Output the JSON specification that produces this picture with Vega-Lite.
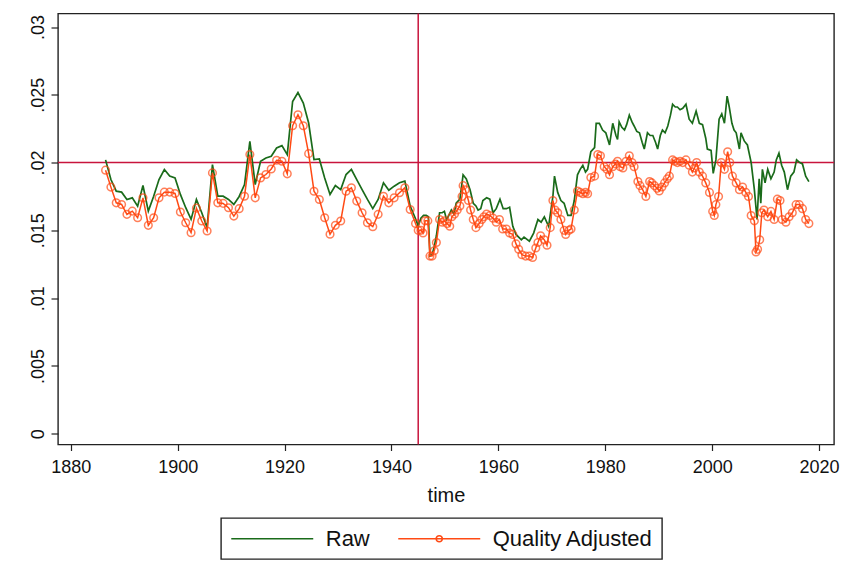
{
  "$schema": "https://vega.github.io/schema/vega-lite/v6.json",
  "width": 776,
  "height": 431,
  "autosize": {"type": "none"},
  "padding": {"left": 58, "top": 13.5, "right": 34, "bottom": 130},
  "background": "white",
  "config": {
    "font": "Liberation Sans",
    "view": {"stroke": "#222222", "strokeWidth": 1.4},
    "axis": {
      "grid": false,
      "domain": false,
      "tickColor": "#222222",
      "tickWidth": 1.2,
      "labelColor": "#111111",
      "titleColor": "#111111",
      "labelFontSize": 18,
      "titleFontWeight": "normal"
    }
  },
  "datasets": {
    "raw": [
      {"year": 1886.5, "share": 0.0202}, {"year": 1887.5, "share": 0.01875}, {"year": 1888.5, "share": 0.01789},
      {"year": 1889.5, "share": 0.01782}, {"year": 1890.5, "share": 0.01728}, {"year": 1891.5, "share": 0.0174},
      {"year": 1892.5, "share": 0.01679}, {"year": 1893.5, "share": 0.01831}, {"year": 1894.5, "share": 0.01642},
      {"year": 1895.5, "share": 0.01752}, {"year": 1896.5, "share": 0.01875}, {"year": 1897.5, "share": 0.01949},
      {"year": 1898.5, "share": 0.019}, {"year": 1899.5, "share": 0.01887}, {"year": 1900.5, "share": 0.01765},
      {"year": 1901.5, "share": 0.01667}, {"year": 1902.5, "share": 0.01581}, {"year": 1903.5, "share": 0.01728},
      {"year": 1904.5, "share": 0.0163}, {"year": 1905.5, "share": 0.0152}, {"year": 1906.5, "share": 0.01985},
      {"year": 1907.5, "share": 0.01752}, {"year": 1908.5, "share": 0.01752}, {"year": 1909.5, "share": 0.01728},
      {"year": 1910.5, "share": 0.01691}, {"year": 1911.5, "share": 0.0175}, {"year": 1912.5, "share": 0.01838},
      {"year": 1913.5, "share": 0.02157}, {"year": 1914.5, "share": 0.01838}, {"year": 1915.5, "share": 0.0201},
      {"year": 1916.5, "share": 0.02034}, {"year": 1917.5, "share": 0.02047}, {"year": 1918.5, "share": 0.02108},
      {"year": 1919.5, "share": 0.02125}, {"year": 1920.5, "share": 0.02059}, {"year": 1921.5, "share": 0.02451},
      {"year": 1922.5, "share": 0.02517}, {"year": 1923.5, "share": 0.02439}, {"year": 1924.5, "share": 0.02292},
      {"year": 1925.5, "share": 0.02022}, {"year": 1926.5, "share": 0.02027}, {"year": 1927.5, "share": 0.01887},
      {"year": 1928.5, "share": 0.01765}, {"year": 1929.5, "share": 0.01831}, {"year": 1930.5, "share": 0.01801},
      {"year": 1931.5, "share": 0.01912}, {"year": 1932.5, "share": 0.01949}, {"year": 1933.5, "share": 0.01875},
      {"year": 1934.5, "share": 0.01801}, {"year": 1935.5, "share": 0.01728}, {"year": 1936.5, "share": 0.0166},
      {"year": 1937.5, "share": 0.01728}, {"year": 1938.5, "share": 0.01851}, {"year": 1939.5, "share": 0.01796},
      {"year": 1940.5, "share": 0.01826}, {"year": 1941.5, "share": 0.01851}, {"year": 1942.5, "share": 0.01863},
      {"year": 1943.5, "share": 0.01679}, {"year": 1944.5, "share": 0.01586},
      {"year": 1945.0, "share": 0.01532}, {"year": 1945.5, "share": 0.0159}, {"year": 1946.0, "share": 0.0161},
      {"year": 1946.5, "share": 0.0161}, {"year": 1946.9, "share": 0.016}, {"year": 1947.2, "share": 0.0131},
      {"year": 1947.6, "share": 0.0132}, {"year": 1948.0, "share": 0.0138}, {"year": 1948.4, "share": 0.0146},
      {"year": 1949.0, "share": 0.0163}, {"year": 1949.5, "share": 0.0163}, {"year": 1949.9, "share": 0.0164},
      {"year": 1950.3, "share": 0.0158}, {"year": 1950.6, "share": 0.016}, {"year": 1951.2, "share": 0.0165},
      {"year": 1951.7, "share": 0.0162}, {"year": 1952.1, "share": 0.017}, {"year": 1952.8, "share": 0.0173},
      {"year": 1953.4, "share": 0.0191}, {"year": 1954.0, "share": 0.0188}, {"year": 1954.7, "share": 0.018},
      {"year": 1955.3, "share": 0.017}, {"year": 1955.8, "share": 0.0168}, {"year": 1956.2, "share": 0.0165},
      {"year": 1956.7, "share": 0.0166}, {"year": 1957.1, "share": 0.0172}, {"year": 1957.8, "share": 0.0174},
      {"year": 1958.4, "share": 0.0173}, {"year": 1959.0, "share": 0.0163}, {"year": 1959.6, "share": 0.0166},
      {"year": 1960.3, "share": 0.0173}, {"year": 1960.9, "share": 0.0166}, {"year": 1961.5, "share": 0.0166},
      {"year": 1962.1, "share": 0.0167}, {"year": 1962.7, "share": 0.0153}, {"year": 1963.3, "share": 0.0147},
      {"year": 1964.3, "share": 0.0143}, {"year": 1964.8, "share": 0.0145}, {"year": 1965.8, "share": 0.0142},
      {"year": 1966.6, "share": 0.0148}, {"year": 1967.4, "share": 0.0158}, {"year": 1968.0, "share": 0.0156},
      {"year": 1968.6, "share": 0.016}, {"year": 1969.4, "share": 0.0153}, {"year": 1970.2, "share": 0.0175},
      {"year": 1970.5, "share": 0.019}, {"year": 1971.1, "share": 0.0178}, {"year": 1971.7, "share": 0.0172},
      {"year": 1972.3, "share": 0.017}, {"year": 1973.0, "share": 0.0161}, {"year": 1973.6, "share": 0.0161},
      {"year": 1974.2, "share": 0.0172}, {"year": 1974.8, "share": 0.0191}, {"year": 1975.3, "share": 0.0195},
      {"year": 1975.8, "share": 0.0198}, {"year": 1976.3, "share": 0.0193}, {"year": 1976.7, "share": 0.0195},
      {"year": 1977.3, "share": 0.0208}, {"year": 1978.0, "share": 0.0211}, {"year": 1978.3, "share": 0.0229},
      {"year": 1978.9, "share": 0.0229}, {"year": 1979.5, "share": 0.0224}, {"year": 1980.1, "share": 0.0222},
      {"year": 1980.8, "share": 0.0213}, {"year": 1981.4, "share": 0.0229}, {"year": 1982.0, "share": 0.022},
      {"year": 1982.3, "share": 0.0217}, {"year": 1982.6, "share": 0.023}, {"year": 1983.1, "share": 0.0226},
      {"year": 1983.6, "share": 0.0224}, {"year": 1984.0, "share": 0.0228}, {"year": 1984.5, "share": 0.0235},
      {"year": 1985.0, "share": 0.023}, {"year": 1985.4, "share": 0.0227}, {"year": 1985.9, "share": 0.0223},
      {"year": 1986.4, "share": 0.0222}, {"year": 1986.9, "share": 0.0215}, {"year": 1987.3, "share": 0.021},
      {"year": 1987.9, "share": 0.0222}, {"year": 1988.4, "share": 0.022}, {"year": 1988.9, "share": 0.022},
      {"year": 1989.4, "share": 0.0215}, {"year": 1989.8, "share": 0.021}, {"year": 1990.3, "share": 0.022},
      {"year": 1990.7, "share": 0.0224}, {"year": 1991.2, "share": 0.0222}, {"year": 1991.7, "share": 0.0227},
      {"year": 1992.2, "share": 0.0235}, {"year": 1992.6, "share": 0.0243}, {"year": 1993.1, "share": 0.0241},
      {"year": 1993.5, "share": 0.0241}, {"year": 1994.0, "share": 0.0239}, {"year": 1994.5, "share": 0.024},
      {"year": 1995.1, "share": 0.0243}, {"year": 1995.7, "share": 0.0232}, {"year": 1996.3, "share": 0.0229},
      {"year": 1997.0, "share": 0.0238}, {"year": 1997.6, "share": 0.0229}, {"year": 1998.2, "share": 0.0228},
      {"year": 1998.8, "share": 0.0218}, {"year": 1999.1, "share": 0.021}, {"year": 1999.8, "share": 0.0209},
      {"year": 2000.2, "share": 0.0192}, {"year": 2000.7, "share": 0.0202}, {"year": 2001.3, "share": 0.0232},
      {"year": 2001.8, "share": 0.0236}, {"year": 2002.3, "share": 0.0229}, {"year": 2002.8, "share": 0.0249},
      {"year": 2003.2, "share": 0.0241}, {"year": 2003.7, "share": 0.0229}, {"year": 2004.1, "share": 0.0224},
      {"year": 2004.5, "share": 0.0222}, {"year": 2005.1, "share": 0.021}, {"year": 2005.4, "share": 0.0222},
      {"year": 2006.0, "share": 0.0216}, {"year": 2006.6, "share": 0.0213}, {"year": 2007.3, "share": 0.02},
      {"year": 2007.9, "share": 0.018}, {"year": 2008.4, "share": 0.0158}, {"year": 2008.8, "share": 0.0188},
      {"year": 2009.1, "share": 0.017}, {"year": 2009.4, "share": 0.0195}, {"year": 2009.9, "share": 0.0185},
      {"year": 2010.4, "share": 0.0195}, {"year": 2011.0, "share": 0.0188}, {"year": 2011.6, "share": 0.0193},
      {"year": 2012.0, "share": 0.0202}, {"year": 2012.5, "share": 0.0207}, {"year": 2013.0, "share": 0.0198},
      {"year": 2013.5, "share": 0.0193}, {"year": 2014.1, "share": 0.018}, {"year": 2014.7, "share": 0.019},
      {"year": 2015.3, "share": 0.0193}, {"year": 2015.8, "share": 0.0202}, {"year": 2016.4, "share": 0.02},
      {"year": 2016.9, "share": 0.0199}, {"year": 2017.5, "share": 0.019}, {"year": 2018.1, "share": 0.0186}
    ],
    "qa": [
      {"year": 1886.5, "share": 0.01944}, {"year": 1887.5, "share": 0.01819}, {"year": 1888.5, "share": 0.01703},
      {"year": 1889.5, "share": 0.01691}, {"year": 1890.5, "share": 0.01618}, {"year": 1891.5, "share": 0.01642},
      {"year": 1892.5, "share": 0.01593}, {"year": 1893.5, "share": 0.0174}, {"year": 1894.5, "share": 0.01537},
      {"year": 1895.5, "share": 0.01593}, {"year": 1896.5, "share": 0.0174}, {"year": 1897.5, "share": 0.01782},
      {"year": 1898.5, "share": 0.01782}, {"year": 1899.5, "share": 0.01772}, {"year": 1900.5, "share": 0.01635},
      {"year": 1901.5, "share": 0.01556}, {"year": 1902.5, "share": 0.01483}, {"year": 1903.5, "share": 0.01664},
      {"year": 1904.5, "share": 0.01569}, {"year": 1905.5, "share": 0.01495}, {"year": 1906.5, "share": 0.01924},
      {"year": 1907.5, "share": 0.01703}, {"year": 1908.5, "share": 0.01699}, {"year": 1909.5, "share": 0.01667},
      {"year": 1910.5, "share": 0.01605}, {"year": 1911.5, "share": 0.0166}, {"year": 1912.5, "share": 0.01752},
      {"year": 1913.5, "share": 0.02059}, {"year": 1914.5, "share": 0.0174}, {"year": 1915.5, "share": 0.01887},
      {"year": 1916.5, "share": 0.01912}, {"year": 1917.5, "share": 0.01953}, {"year": 1918.5, "share": 0.02017},
      {"year": 1919.5, "share": 0.0201}, {"year": 1920.5, "share": 0.01917}, {"year": 1921.5, "share": 0.02272},
      {"year": 1922.5, "share": 0.02353}, {"year": 1923.5, "share": 0.02272}, {"year": 1924.5, "share": 0.02066},
      {"year": 1925.5, "share": 0.01789}, {"year": 1926.5, "share": 0.01728}, {"year": 1927.5, "share": 0.01593},
      {"year": 1928.5, "share": 0.01471}, {"year": 1929.5, "share": 0.01537}, {"year": 1930.5, "share": 0.01569},
      {"year": 1931.5, "share": 0.01789}, {"year": 1932.5, "share": 0.01814}, {"year": 1933.5, "share": 0.01716},
      {"year": 1934.5, "share": 0.0163}, {"year": 1935.5, "share": 0.01556}, {"year": 1936.5, "share": 0.01527},
      {"year": 1937.5, "share": 0.01618}, {"year": 1938.5, "share": 0.01752}, {"year": 1939.5, "share": 0.01703},
      {"year": 1940.5, "share": 0.0174}, {"year": 1941.5, "share": 0.01777}, {"year": 1942.5, "share": 0.01814},
      {"year": 1943.5, "share": 0.01654}, {"year": 1944.5, "share": 0.01551},
      {"year": 1945.0, "share": 0.015}, {"year": 1945.5, "share": 0.015}, {"year": 1945.9, "share": 0.0148},
      {"year": 1946.3, "share": 0.0157}, {"year": 1946.8, "share": 0.0157}, {"year": 1947.2, "share": 0.0131},
      {"year": 1947.6, "share": 0.0131}, {"year": 1948.0, "share": 0.0135}, {"year": 1948.4, "share": 0.0141},
      {"year": 1949.0, "share": 0.0158}, {"year": 1949.5, "share": 0.0156}, {"year": 1949.9, "share": 0.0157},
      {"year": 1950.4, "share": 0.0155}, {"year": 1950.9, "share": 0.0153}, {"year": 1951.3, "share": 0.016},
      {"year": 1951.8, "share": 0.0162}, {"year": 1952.3, "share": 0.0165}, {"year": 1952.8, "share": 0.0168},
      {"year": 1953.2, "share": 0.0175}, {"year": 1953.4, "share": 0.0183}, {"year": 1953.8, "share": 0.018},
      {"year": 1954.4, "share": 0.0172}, {"year": 1954.8, "share": 0.0165}, {"year": 1955.3, "share": 0.0158},
      {"year": 1955.8, "share": 0.0152}, {"year": 1956.4, "share": 0.0155}, {"year": 1956.9, "share": 0.0158},
      {"year": 1957.3, "share": 0.016}, {"year": 1957.8, "share": 0.0162}, {"year": 1958.4, "share": 0.0161},
      {"year": 1959.0, "share": 0.0159}, {"year": 1959.6, "share": 0.0156}, {"year": 1960.2, "share": 0.0158},
      {"year": 1960.8, "share": 0.0151}, {"year": 1961.5, "share": 0.0151}, {"year": 1962.1, "share": 0.0148},
      {"year": 1962.7, "share": 0.0147}, {"year": 1963.3, "share": 0.014}, {"year": 1963.8, "share": 0.0136},
      {"year": 1964.4, "share": 0.0132}, {"year": 1965.1, "share": 0.0131}, {"year": 1965.8, "share": 0.0131},
      {"year": 1966.4, "share": 0.013}, {"year": 1967.0, "share": 0.0137}, {"year": 1967.4, "share": 0.0141},
      {"year": 1967.9, "share": 0.0146}, {"year": 1968.6, "share": 0.0143}, {"year": 1969.1, "share": 0.0139},
      {"year": 1969.7, "share": 0.0152}, {"year": 1970.2, "share": 0.0172}, {"year": 1970.6, "share": 0.0165},
      {"year": 1971.1, "share": 0.0163}, {"year": 1971.7, "share": 0.0158}, {"year": 1972.3, "share": 0.015},
      {"year": 1972.6, "share": 0.0147}, {"year": 1973.2, "share": 0.015}, {"year": 1973.6, "share": 0.0151},
      {"year": 1974.2, "share": 0.0165}, {"year": 1974.8, "share": 0.0179}, {"year": 1975.3, "share": 0.0178},
      {"year": 1975.8, "share": 0.0177}, {"year": 1976.3, "share": 0.0178}, {"year": 1976.7, "share": 0.0177},
      {"year": 1977.3, "share": 0.0189}, {"year": 1978.0, "share": 0.019}, {"year": 1978.6, "share": 0.0206},
      {"year": 1979.1, "share": 0.0205}, {"year": 1979.8, "share": 0.0197}, {"year": 1980.3, "share": 0.0195},
      {"year": 1980.8, "share": 0.0191}, {"year": 1981.4, "share": 0.0197}, {"year": 1981.9, "share": 0.0199},
      {"year": 1982.3, "share": 0.0201}, {"year": 1982.8, "share": 0.0197}, {"year": 1983.3, "share": 0.0196},
      {"year": 1983.9, "share": 0.0201}, {"year": 1984.5, "share": 0.0205}, {"year": 1985.0, "share": 0.02},
      {"year": 1985.4, "share": 0.0197}, {"year": 1986.1, "share": 0.0186}, {"year": 1986.5, "share": 0.0183},
      {"year": 1987.0, "share": 0.018}, {"year": 1987.6, "share": 0.0175}, {"year": 1988.3, "share": 0.0186},
      {"year": 1988.7, "share": 0.0185}, {"year": 1989.2, "share": 0.0183}, {"year": 1989.7, "share": 0.0181},
      {"year": 1990.1, "share": 0.0179}, {"year": 1990.6, "share": 0.0182}, {"year": 1991.1, "share": 0.0185},
      {"year": 1991.6, "share": 0.0188}, {"year": 1992.0, "share": 0.019}, {"year": 1992.6, "share": 0.0202},
      {"year": 1993.0, "share": 0.0201}, {"year": 1993.5, "share": 0.02}, {"year": 1994.0, "share": 0.0201},
      {"year": 1994.5, "share": 0.02}, {"year": 1995.1, "share": 0.0202}, {"year": 1995.7, "share": 0.0198},
      {"year": 1996.3, "share": 0.0193}, {"year": 1996.7, "share": 0.0196}, {"year": 1997.1, "share": 0.02},
      {"year": 1997.6, "share": 0.0193}, {"year": 1998.2, "share": 0.019}, {"year": 1998.8, "share": 0.0185},
      {"year": 1999.5, "share": 0.0178}, {"year": 2000.1, "share": 0.0164}, {"year": 2000.4, "share": 0.0161},
      {"year": 2000.7, "share": 0.0169}, {"year": 2001.2, "share": 0.0175}, {"year": 2001.7, "share": 0.02},
      {"year": 2002.3, "share": 0.0195}, {"year": 2002.9, "share": 0.0208}, {"year": 2003.3, "share": 0.02},
      {"year": 2003.8, "share": 0.019}, {"year": 2004.5, "share": 0.0185}, {"year": 2005.1, "share": 0.018},
      {"year": 2005.7, "share": 0.0182}, {"year": 2006.3, "share": 0.0178}, {"year": 2006.8, "share": 0.0175},
      {"year": 2007.3, "share": 0.0161}, {"year": 2007.9, "share": 0.0157}, {"year": 2008.2, "share": 0.0134},
      {"year": 2008.5, "share": 0.0136}, {"year": 2008.9, "share": 0.0143}, {"year": 2009.3, "share": 0.0163},
      {"year": 2009.7, "share": 0.0165}, {"year": 2010.4, "share": 0.016}, {"year": 2011.0, "share": 0.0164},
      {"year": 2011.6, "share": 0.0158}, {"year": 2012.2, "share": 0.0173}, {"year": 2012.7, "share": 0.0172},
      {"year": 2013.1, "share": 0.0158}, {"year": 2013.8, "share": 0.0156}, {"year": 2014.4, "share": 0.016},
      {"year": 2015.0, "share": 0.0163}, {"year": 2015.7, "share": 0.0169}, {"year": 2016.3, "share": 0.0169},
      {"year": 2016.9, "share": 0.0166}, {"year": 2017.5, "share": 0.0158}, {"year": 2018.1, "share": 0.0155}
    ]
  },
  "encoding": {
    "x": {
      "field": "year",
      "type": "quantitative",
      "scale": {"domain": [1877.6, 2022.8], "nice": false, "zero": false},
      "axis": {
        "title": "time",
        "titleFontSize": 20,
        "titlePadding": 9,
        "values": [1880, 1900, 1920, 1940, 1960, 1980, 2000, 2020],
        "format": "d",
        "tickSize": 6,
        "labelPadding": 8
      }
    },
    "y": {
      "field": "share",
      "type": "quantitative",
      "scale": {"domain": [-0.0008, 0.031], "nice": false, "zero": false},
      "axis": {
        "title": null,
        "values": [0, 0.005, 0.01, 0.015, 0.02, 0.025, 0.03],
        "labelExpr": "datum.value == 0 ? '0' : substring(format(datum.value, '.3~f'), 1)",
        "labelAngle": 270,
        "labelAlign": "center",
        "labelBaseline": "bottom",
        "tickSize": 7,
        "labelPadding": 4
      }
    }
  },
  "layer": [
    {
      "data": {"values": [{"year": 1945}]},
      "mark": {"type": "rule", "color": "#c8143c", "strokeWidth": 1.5},
      "encoding": {"y": null}
    },
    {
      "data": {"values": [{"share": 0.02}]},
      "mark": {"type": "rule", "color": "#c8143c", "strokeWidth": 1.5},
      "encoding": {"x": null}
    },
    {
      "data": {"name": "raw"},
      "mark": {"type": "line", "strokeWidth": 1.7},
      "encoding": {
        "color": {
          "datum": "Raw",
          "scale": {"domain": ["Raw", "Quality Adjusted"], "range": ["#1a6b1a", "#ff4a14"]},
          "legend": {
            "title": null,
            "orient": "none",
            "legendX": 163,
            "legendY": 504.5,
            "direction": "horizontal",
            "symbolType": "M-4,0H4",
            "symbolSize": 420,
            "symbolOffset": 30.75,
            "symbolStrokeWidth": 1.6,
            "labelFontSize": 22,
            "labelLimit": 400,
            "labelColor": "#111111",
            "labelOffset": 42,
            "columnPadding": 25,
            "padding": 9,
            "strokeColor": "#222222",
            "encode": {
              "legend": {"update": {"strokeWidth": {"value": 1.4}}},
              "symbols": {
                "update": {
                  "shape": {"signal": "datum.value === 'Raw' ? 'M-4,0H4' : 'M-4,0H4M0.3,0A0.3,0.3 0 1,1 -0.3,0A0.3,0.3 0 1,1 0.3,0'"},
                  "fill": {"value": "transparent"}
                }
              }
            }
          }
        }
      }
    },
    {
      "data": {"name": "qa"},
      "mark": {"type": "line", "strokeWidth": 1.5},
      "encoding": {"color": {"datum": "Quality Adjusted"}}
    },
    {
      "data": {"name": "qa"},
      "mark": {"type": "point", "shape": "circle", "filled": false, "size": 58, "strokeWidth": 1.5},
      "encoding": {"color": {"datum": "Quality Adjusted"}}
    }
  ]
}
